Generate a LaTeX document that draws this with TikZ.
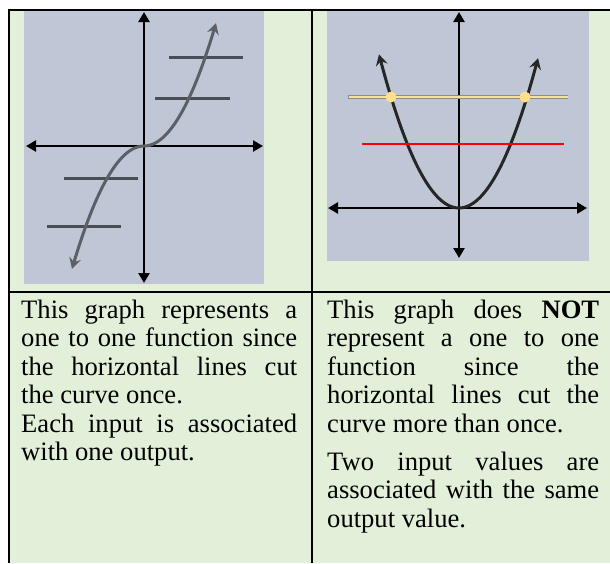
\documentclass[tikz,border=0pt]{standalone}
\usepackage{fontspec}
\setmainfont{Liberation Serif}
\usetikzlibrary{arrows.meta}
\definecolor{cellgreen}{RGB}{226,239,217}
\definecolor{panel}{RGB}{191,199,214}
\definecolor{curvegray}{RGB}{92,95,102}
\definecolor{hline}{RGB}{72,77,86}
\definecolor{pale}{RGB}{246,226,160}
\definecolor{dotyellow}{RGB}{255,222,140}
\tikzset{
  border/.style={line width=2pt, black},
  axis/.style={line width=2.6pt, black, {Triangle[width=11pt,length=10pt]}-{Triangle[width=11pt,length=10pt]}},
  cubic/.style={line width=3pt, curvegray, {Stealth[width=12pt,length=11pt,inset=4pt]}-{Stealth[width=12pt,length=11pt,inset=4pt]}},
  para/.style={line width=3pt, black!85, {Stealth[width=12pt,length=11pt,inset=4pt]}-{Stealth[width=12pt,length=11pt,inset=4pt]}},
  cutline/.style={line width=3pt, hline},
  txt/.style={anchor=base west, inner sep=0pt, font=\fontsize{26.6}{28.5}\selectfont},
}
\begin{document}
\begin{tikzpicture}[x=1pt,y=-1pt]
\useasboundingbox (0,0) rectangle (610,563);
\fill[white] (0,0) rectangle (610,563);
\fill[cellgreen] (9,9) rectangle (610,563);
% left panel
\fill[panel] (24,10) rectangle (264,284);
\draw[axis] (144,12) -- (144,283);
\draw[axis] (26,146) -- (263,146);
\draw[cutline] (169,57) -- (243,57);
\draw[cutline] (155,98) -- (230,98);
\draw[cutline] (64,178) -- (138,178);
\draw[cutline] (47,226) -- (121,226);
\draw[cubic, domain=-72:72, samples=80, smooth] plot ({144+\x},{146-0.0237*\x*abs(\x)});
% right panel
\fill[panel] (327,10) rectangle (589,261);
\draw[axis] (459,12) -- (459,258);
\draw[axis] (328,208) -- (587,208);
\draw[para, domain=-80:79, samples=80, smooth] plot ({459+\x},{208-0.024*\x*\x});
\draw[line width=3.6pt, black!45] (348,97) -- (568,97);
\draw[line width=2.2pt, pale] (348.5,97) -- (567.5,97);
\fill[dotyellow] (391,97) circle (5.5pt);
\fill[dotyellow] (525,97) circle (5.5pt);
\draw[line width=2.6pt, red] (362,144) -- (564,144);
% borders
\draw[border] (8,9.5) -- (610,9.5);
\draw[border] (9,8.5) -- (9,563);
\draw[border] (312,8.5) -- (312,563);
\draw[border] (8,292) -- (610,292);
% left text
\node[txt] (l1) at (21,318) {\makebox[276pt][s]{This graph represents a}};
\node[txt] (l2) at (21,346.5) {\makebox[276pt][s]{one to one function since}};
\node[txt] (l3) at (21,375) {\makebox[276pt][s]{the horizontal lines cut}};
\node[txt] (l4) at (21,403.5) {the curve once.};
\node[txt] (l5) at (21,432) {\makebox[276pt][s]{Each input is associated}};
\node[txt] (l6) at (21,460.5) {with one output.};
% right text
\node[txt] (r1) at (327,318) {\makebox[272pt][s]{This graph does \textbf{NOT}}};
\node[txt] (r2) at (327,346.5) {\makebox[272pt][s]{represent a one to one}};
\node[txt] (r3) at (327,375) {\makebox[272pt][s]{function since the}};
\node[txt] (r4) at (327,403.5) {\makebox[272pt][s]{horizontal lines cut the}};
\node[txt] (r5) at (327,432) {curve more than once.};
\node[txt] (r6) at (327,470) {\makebox[272pt][s]{Two input values are}};
\node[txt] (r7) at (327,498.5) {\makebox[272pt][s]{associated with the same}};
\node[txt] (r8) at (327,527) {output value.};
\end{tikzpicture}
\end{document}
